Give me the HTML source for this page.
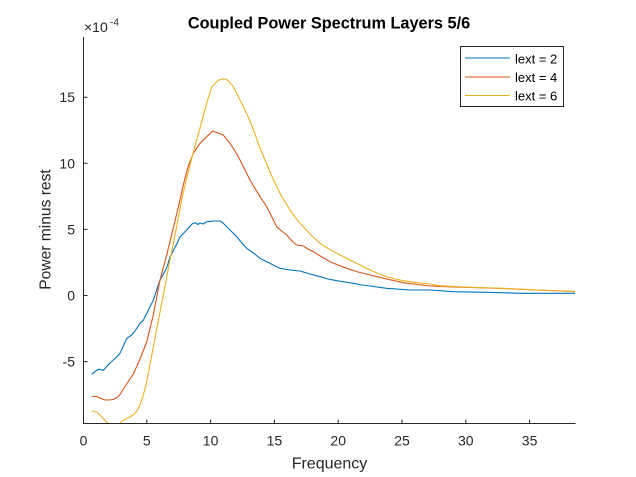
<!DOCTYPE html>
<html><head><meta charset="utf-8"><style>
html,body{margin:0;padding:0;background:#fff;}
svg{display:block;font-family:"Liberation Sans",Arial,sans-serif;}
</style></head><body>
<svg width="636" height="477" viewBox="0 0 636 477" xmlns="http://www.w3.org/2000/svg">
<rect width="636" height="477" fill="#fff"/>
<defs><clipPath id="ax"><rect x="83.5" y="37" width="492" height="386.5"/></clipPath></defs>
<g clip-path="url(#ax)" fill="none" stroke-width="1.1" stroke-linejoin="round">
<polyline stroke="#0072BD" points="91.7,374.3 95,371.5 98.3,369.3 101,369.6 103.3,370.3 108,365 113.3,360 116.7,357 120,353.3 126.7,338.5 131.7,335 135,331 140,323.3 143.3,320.3 150,306.7 153.3,300.3 156.7,290 160,280 166.7,268 170,257 176.7,244 180,237 186.7,230 192,224 195,222.7 198,224.5 200,223 203.3,224 206,222 210,221.3 215,221 220,221 223,223 226.7,226.7 231,231 236.7,236.7 241,242 246.7,248.3 252,252 260,258.3 265,261 270,263.3 275,266 280,268.3 290,270 300,271 310,274 320,276.7 328,279 336.7,280.7 345,282 353.3,283.3 362,285 370,286 386.7,288.3 410,290 430,290 453.3,291.7 486.7,292.3 520,293.3 575,293.3"/>
<polyline stroke="#D95319" points="91.7,396.5 96.7,396.5 101,398.5 105,400 109,400 113.3,399.5 117,397.5 120,394.5 126.7,384 133.3,374 140,359 146.7,342 153.3,315 160,280 166.7,255 173.3,228 180,200 183.3,185 188,167 193.3,153.3 200,143.3 206.7,136.7 212.7,131 218,133 223.3,135 226,138.5 230,143.3 235,151 240,160 245,170 250,180 255,188.5 260,196.7 265,204 270,213 276.7,226.7 281,230.5 286.7,235 292,241 296.7,245 300,245.5 303.3,246 308,249 313.3,251.7 321,256.5 330,261.7 338,265 346.7,268.3 358,272 370,275 386.7,279 403.3,282.7 430,286 450,286.8 470,287.5 503,288.5 537,290 575,291.5"/>
<polyline stroke="#EDB120" points="91.7,411 96.7,412 100,415 103.3,418.7 108.3,423.5 112,428 116,428 120,423.5 123,420.5 126.7,418.7 133.3,415 137,411 140,405 143,396 146,385 150.5,362 155,338 160,312 165,286 170,260 176,230 181.7,200 186,181 190,165 195,146 200,128 204,113 207,102 211.7,87 216.7,81.7 220,79.5 223.3,79 226,79.2 228.5,81 233.3,86.7 238,96 243.3,106.7 247.5,115.5 251.7,125 256,137 260,148.3 265,160 270,172 275,183 280,193.3 285,202 290,210 296,218.5 303.3,226.7 311,235 320,243.3 328,248.5 336.7,253.3 345,257.5 353.3,261.7 362,266 370,270 378,273.5 386.7,276.7 395,279 403.3,280.7 415,282.3 430,284 440,285.8 470,287.3 503.3,288.3 536.7,290 575,291.7"/>
</g>
<g stroke="#262626" stroke-width="1" fill="none">
<path d="M83.5,37 V423.5 H575.5"/>
<path d="M146.8,423.5 v-4 M210.6,423.5 v-4 M274.4,423.5 v-4 M338.2,423.5 v-4 M402,423.5 v-4 M465.8,423.5 v-4 M529.6,423.5 v-4"/>
<path d="M83.5,97.2 h4 M83.5,163.3 h4 M83.5,229.4 h4 M83.5,295.5 h4 M83.5,361.6 h4"/>
</g>
<g fill="#262626" font-size="14" text-anchor="end">
<text x="75" y="102.2">15</text>
<text x="75" y="168.3">10</text>
<text x="75" y="234.4">5</text>
<text x="75" y="300.5">0</text>
<text x="75" y="366.6">-5</text>
</g>
<g fill="#262626" font-size="14" text-anchor="middle">
<text x="83.5" y="445.7">0</text>
<text x="146.8" y="445.7">5</text>
<text x="210.6" y="445.7">10</text>
<text x="274.4" y="445.7">15</text>
<text x="338.2" y="445.7">20</text>
<text x="402" y="445.7">25</text>
<text x="465.8" y="445.7">30</text>
<text x="529.6" y="445.7">35</text>
</g>
<text x="84" y="32" font-size="14" fill="#262626">×10</text>
<text x="110" y="25.5" font-size="10" fill="#262626">-4</text>
<text x="329" y="28.5" font-size="16.3" font-weight="bold" fill="#000" text-anchor="middle">Coupled Power Spectrum Layers 5/6</text>
<text x="329.5" y="468.3" font-size="16" fill="#262626" text-anchor="middle">Frequency</text>
<text transform="translate(50.5,229.5) rotate(-90)" font-size="15.6" fill="#262626" text-anchor="middle">Power minus rest</text>
<rect x="460.5" y="46.5" width="103" height="60" fill="#fff" stroke="#262626" stroke-width="1"/>
<g stroke-width="1.1">
<line x1="465" y1="58" x2="510" y2="58" stroke="#0072BD"/>
<line x1="465" y1="77" x2="510" y2="77" stroke="#D95319"/>
<line x1="465" y1="95.5" x2="510" y2="95.5" stroke="#EDB120"/>
</g>
<g font-size="13" fill="#000">
<text x="515" y="63.3">lext = 2</text>
<text x="515" y="82.2">lext = 4</text>
<text x="515" y="100.7">lext = 6</text>
</g>
</svg>
</body></html>
